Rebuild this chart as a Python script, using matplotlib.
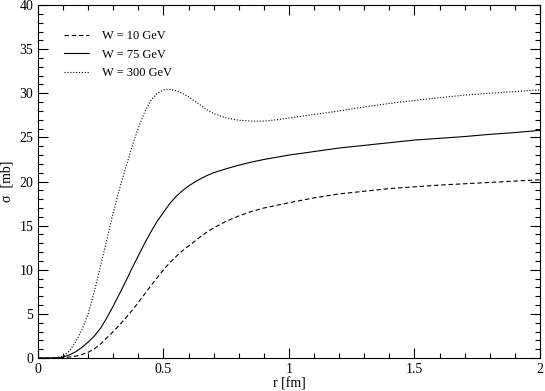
import matplotlib
matplotlib.use("Agg")
import matplotlib.pyplot as plt
from matplotlib.ticker import MultipleLocator

# r [fm] grid and sigma [mb]
R = [0.0, 0.05, 0.075,
     0.1, 0.125, 0.15, 0.175, 0.2, 0.225, 0.25, 0.275, 0.3, 0.325, 0.35, 0.375,
     0.4, 0.425, 0.45, 0.475, 0.5, 0.525, 0.55, 0.575, 0.6, 0.625, 0.65, 0.675, 0.7,
     0.75, 0.8, 0.85, 0.9, 0.95, 1.0,
     1.1, 1.2, 1.3, 1.4, 1.5, 1.6, 1.7, 1.8, 1.9, 2.0]
SIG_W10 = [0.0, 0.0, 0.0,
           0.05, 0.1, 0.2, 0.4, 0.65, 1.05, 1.6, 2.3, 3.0, 3.75, 4.55, 5.4,
           6.3, 7.25, 8.2, 9.1, 10.0, 10.8, 11.5, 12.15, 12.7, 13.25, 13.8, 14.3, 14.75,
           15.5, 16.1, 16.6, 17.0, 17.3, 17.6,
           18.15, 18.6, 18.9, 19.2, 19.4, 19.6, 19.75, 19.9, 20.05, 20.2]
SIG_W75 = [0.0, 0.0, 0.02,
           0.1, 0.35, 0.7, 1.2, 1.8, 2.5, 3.4, 4.6, 5.9, 7.3, 8.7, 10.2,
           11.6, 13.0, 14.3, 15.5, 16.5, 17.5, 18.3, 18.95, 19.5, 19.95, 20.35, 20.7, 21.0,
           21.45, 21.85, 22.2, 22.5, 22.75, 23.0,
           23.4, 23.8, 24.1, 24.4, 24.7, 24.9, 25.1, 25.35, 25.55, 25.8]
SIG_W300 = [0.0, 0.0, 0.05,
            0.2, 0.8, 1.8, 3.2, 5.0, 7.6, 10.5, 13.5, 16.5, 19.2, 21.6, 24.0,
            26.1, 27.9, 29.2, 30.0, 30.4, 30.45, 30.3, 30.0, 29.6, 29.1, 28.6, 28.1, 27.7,
            27.2, 26.95, 26.85, 26.85, 27.0, 27.2,
            27.6, 28.0, 28.45, 28.85, 29.2, 29.5, 29.8, 30.0, 30.2, 30.4]
LABELS = ["W = 10 GeV", "W = 75 GeV", "W = 300 GeV"]

plt.rcParams.update({
    "font.family": ["Liberation Serif", "DejaVu Serif"],
    "font.size": 9,
    "xtick.direction": "in",
    "ytick.direction": "in",
    "xtick.top": True,
    "ytick.right": True,
})

fig = plt.figure(figsize=(5.45, 3.91), dpi=100)
ax = fig.add_axes([0.0697, 0.0844, 0.9211, 0.9026])

ax.plot(R, SIG_W10, color="black", lw=0.8, linestyle=(0, (4, 2.5)), label=LABELS[0])
ax.plot(R, SIG_W75, color="black", lw=0.8, linestyle="-", label=LABELS[1])
ax.plot(R, SIG_W300, color="black", lw=0.8, linestyle=(0, (1, 1.6)), label=LABELS[2])

ax.set_xlim(0, 2)
ax.set_ylim(0, 40)
ax.xaxis.set_major_locator(MultipleLocator(0.5))
ax.xaxis.set_minor_locator(MultipleLocator(0.1))
ax.yaxis.set_major_locator(MultipleLocator(5))
ax.yaxis.set_minor_locator(MultipleLocator(1))
ax.xaxis.set_major_formatter(lambda v, p: f"{v:g}")
ax.tick_params(which="major", length=7, width=0.8, labelsize=10)
ax.tick_params(which="minor", length=3.6, width=0.8)
for s in ax.spines.values():
    s.set_linewidth(0.8)

ax.set_xlabel("r [fm]", fontsize=10, labelpad=1)
ax.set_ylabel("σ  [mb]", fontsize=10, labelpad=4)

ax.legend(loc="upper left", frameon=False, fontsize=9, handlelength=2.0,
          handletextpad=1.0, labelspacing=0.5, bbox_to_anchor=(0.03, 0.96))

fig.savefig("out.png", dpi=100)
